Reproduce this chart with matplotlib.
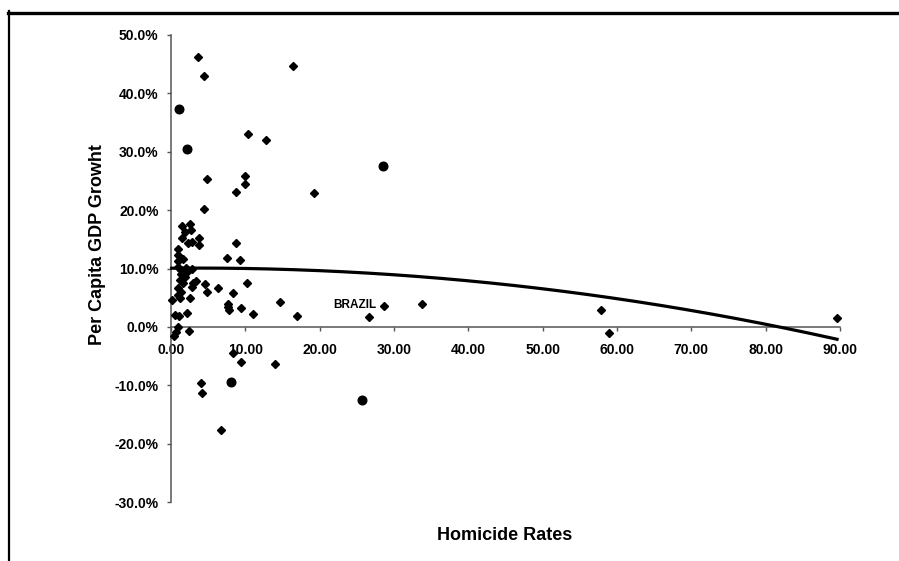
import numpy as np
import matplotlib
matplotlib.use("Agg")
import matplotlib.pyplot as plt
from matplotlib.lines import Line2D
from matplotlib.ticker import FixedLocator, FuncFormatter

plt.rcParams['font.family'] = ['Liberation Sans', 'DejaVu Sans']

# Homicide rate (x) and per capita GDP growth (y, fraction) - diamond markers
homicide = [3.6, 4.4, 16.4, 10.3, 12.75, 4.8, 9.9, 10.0, 8.7, 19.3,
            4.5, 1.5, 2.55, 1.9, 2.7, 1.5, 2.3, 2.8, 3.8, 3.8,
            1.0, 1.0, 1.6, 1.0, 8.8, 7.5, 9.3, 1.0, 1.4, 2.0,
            2.8, 1.7, 2.3, 1.3, 1.9, 1.2, 1.6, 1.0, 1.4, 1.0,
            1.2, 3.0, 2.8, 3.3, 4.6, 4.8, 6.3, 8.4, 10.2, 0.1,
            2.5, 7.7, 7.7, 7.8, 9.4, 11.0, 14.7, 16.9, 0.5, 1.1,
            2.2, 1.0, 0.7, 0.35, 2.4, 8.3, 9.4, 14.0, 4.1, 4.2,
            6.7, 28.6, 26.6, 33.8, 57.9, 58.9, 89.6]
growth = [0.463, 0.430, 0.447, 0.330, 0.320, 0.254, 0.258, 0.244, 0.231, 0.230,
          0.202, 0.172, 0.177, 0.163, 0.166, 0.153, 0.143, 0.146, 0.152, 0.140,
          0.134, 0.123, 0.117, 0.112, 0.144, 0.118, 0.115, 0.103, 0.098, 0.101,
          0.100, 0.094, 0.096, 0.090, 0.086, 0.080, 0.075, 0.066, 0.060, 0.055,
          0.049, 0.075, 0.069, 0.078, 0.074, 0.060, 0.066, 0.058, 0.076, 0.046,
          0.049, 0.040, 0.034, 0.029, 0.033, 0.022, 0.043, 0.018, 0.020, 0.019,
          0.024, -0.001, -0.009, -0.015, -0.007, -0.045, -0.060, -0.064, -0.096, -0.113,
          -0.177, 0.036, 0.017, 0.040, 0.029, -0.011, 0.015]

# Points that appear as round dots
homicide_round = [1.07, 2.1, 28.5, 8.05, 25.7]
growth_round = [0.374, 0.305, 0.276, -0.095, -0.125]

# Polynomial trend line coefficients (a + b*x + c*x^2)
trend_coef = [0.1005, 0.00012, -1.65e-5]

# Labelled country
label_name = "BRAZIL"
label_x, label_y = 28.6, 0.036

x_ticks = [0, 10, 20, 30, 40, 50, 60, 70, 80, 90]
y_ticks = [-0.3, -0.2, -0.1, 0.0, 0.1, 0.2, 0.3, 0.4, 0.5]

x_title = "Homicide Rates"
y_title = "Per Capita GDP Growht"

fig = plt.figure(figsize=(8.99, 5.61), dpi=100)
ax = fig.add_axes([171/899, (561-502)/561, 669/899, 467/561])

ax.set_xlim(0, 90)
ax.set_ylim(-0.3, 0.5)

ax.plot(homicide, growth, linestyle='none', marker='D', markersize=4.2,
        color='black', clip_on=False, zorder=3)
ax.plot(homicide_round, growth_round, linestyle='none', marker='o', markersize=6.2,
        color='black', clip_on=False, zorder=3)

xs = np.linspace(min(homicide + homicide_round), max(homicide + homicide_round), 300)
ys = trend_coef[0] + trend_coef[1] * xs + trend_coef[2] * xs ** 2
ax.plot(xs, ys, color='black', linewidth=2.3, clip_on=False, zorder=4)

ax.annotate(label_name, xy=(label_x, label_y), xytext=(-5.5, 0.5),
            textcoords='offset points', ha='right', va='center',
            fontsize=8.5, fontweight='bold')

for s in ['top', 'right']:
    ax.spines[s].set_visible(False)
ax.spines['bottom'].set_position(('data', 0))
ax.spines['left'].set_position(('data', 0))
for s in ['bottom', 'left']:
    ax.spines[s].set_color('#555555')
    ax.spines[s].set_linewidth(1.1)

ax.xaxis.set_major_locator(FixedLocator(x_ticks))
ax.yaxis.set_major_locator(FixedLocator(y_ticks))
ax.xaxis.set_major_formatter(FuncFormatter(lambda v, p: f"{v:.2f}"))
ax.yaxis.set_major_formatter(FuncFormatter(lambda v, p: f"{v*100:.1f}%"))
ax.tick_params(axis='x', direction='out', length=3, width=1, color='#555555',
               pad=8.5, labelsize=10)
ax.tick_params(axis='y', direction='out', length=3, width=1, color='#555555',
               pad=6, labelsize=10)
for lab in ax.get_xticklabels() + ax.get_yticklabels():
    lab.set_fontweight('bold')

fig.text(97/899, 1 - 245/561, y_title, rotation=90, ha='center', va='center',
         fontsize=13, fontweight='bold')
fig.text(505/899, 1 - 535/561, x_title, ha='center', va='center',
         fontsize=13, fontweight='bold')

# Outer frame lines (top and left)
fig.add_artist(Line2D([8/899, 1.0], [1 - 12.5/561, 1 - 12.5/561],
                      transform=fig.transFigure, color='black', linewidth=2.4))
fig.add_artist(Line2D([9/899, 9/899], [0.0, 1 - 11/561],
                      transform=fig.transFigure, color='black', linewidth=1.6))

fig.savefig("out.png", dpi=100)
